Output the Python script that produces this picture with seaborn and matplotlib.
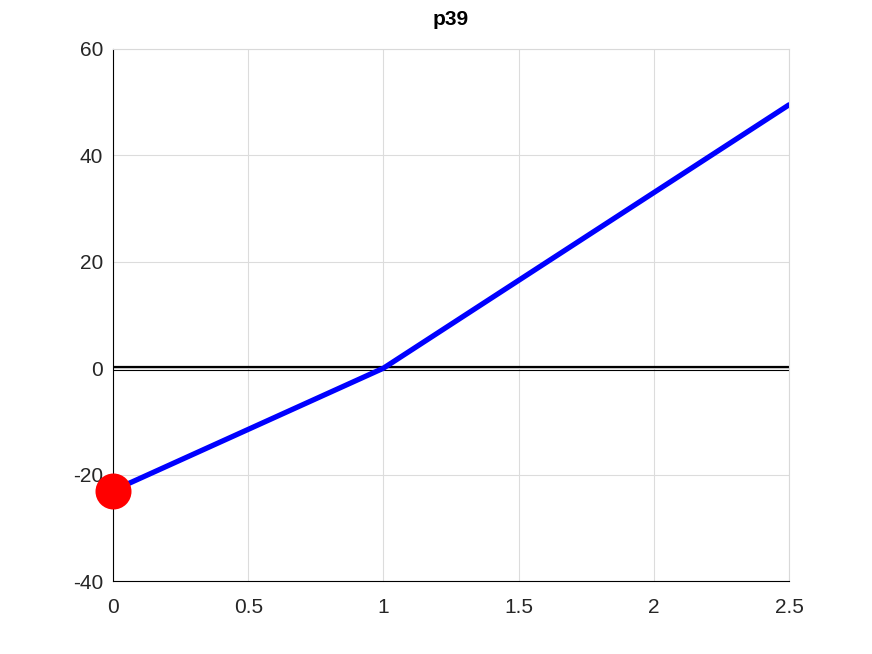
import numpy as np
import pandas as pd
import seaborn as sns
from matplotlib import pyplot as plt

sns.set_style("white")
plt.rcParams['font.family'] = ['Liberation Sans', 'DejaVu Sans']
plt.rcParams['axes.unicode_minus'] = False

# data
x_vals = [0, 1, 2.5]
y_vals = [-23, 0, 49.5]
start_x = [0]
start_y = [-23]
x_ticks = [0, 0.5, 1, 1.5, 2, 2.5]
y_ticks = [-40, -20, 0, 20, 40, 60]

df = pd.DataFrame({"x": x_vals, "y": y_vals})
df_pt = pd.DataFrame({"x": start_x, "y": start_y})

fig = plt.figure(figsize=(8.72, 6.54), dpi=100)
ax = fig.add_axes([0.1296, 0.1116, 0.7752, 0.8135])

# zero line (drawn twice like the original)
ax.axhline(0.2, color="black", lw=1.6, zorder=2)
ax.axhline(-0.4, color="black", lw=0.8, zorder=2)

sns.lineplot(data=df, x="x", y="y", color="blue", lw=3.8, ax=ax, zorder=3)
sns.scatterplot(data=df_pt, x="x", y="y", color="red", s=24**2, edgecolor="red",
                ax=ax, zorder=4, clip_on=False)

ax.set_xlim(0, 2.5)
ax.set_ylim(-40, 60)
ax.set_xticks(x_ticks)
ax.set_xticklabels(["0", "0.5", "1", "1.5", "2", "2.5"])
ax.set_yticks(y_ticks)
ax.set_yticklabels([str(v) for v in y_ticks])
ax.grid(True, color="#dcdcdc", lw=0.8)
ax.set_axisbelow(True)
ax.set_xlabel("")
ax.set_ylabel("")
ax.tick_params(labelsize=15, colors="#262626", length=0)
ax.tick_params(axis="y", pad=7)
ax.tick_params(axis="x", pad=12)

for s in ["top", "right"]:
    ax.spines[s].set_color("#d9d9d9")
    ax.spines[s].set_linewidth(0.8)
for s in ["left", "bottom"]:
    ax.spines[s].set_color("black")
    ax.spines[s].set_linewidth(0.8)

ax.set_title("p39", fontsize=15, fontweight="bold", color="black", pad=17)

plt.savefig("out.png", dpi=100)
